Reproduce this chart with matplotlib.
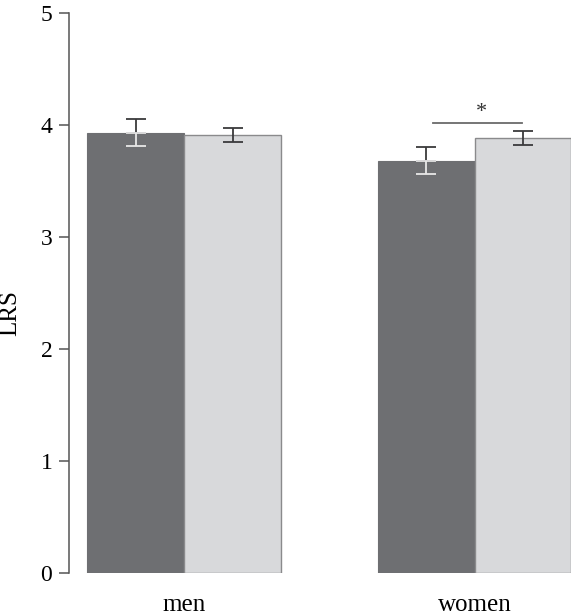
import numpy as np
import matplotlib.pyplot as plt

plt.rcParams['font.family'] = ['Liberation Serif', 'DejaVu Serif']

# data
groups = ['men', 'women']
dark_vals = [3.93, 3.68]
dark_err = [0.12, 0.12]
light_vals = [3.91, 3.88]
light_err = [0.065, 0.063]

dark_col = '#6e6f72'
light_col = '#d8d9db'

fig = plt.figure(figsize=(5.71, 6.16), dpi=100)
ax = fig.add_axes([69 / 571, 43 / 616, 502 / 571, 560 / 616])

x = np.array([0, 3])
w = 1.0

ax.bar(x - w / 2, dark_vals, w, color=dark_col, edgecolor=dark_col, linewidth=0.8)
ax.bar(x + w / 2, light_vals, w, color=light_col, edgecolor='#8a8a8c', linewidth=1.0)

# error bars: upper part dark, lower part inside dark bars drawn light
ekw = dict(fmt='none', capsize=7, elinewidth=1.3, capthick=1.3)
ax.errorbar(x - w / 2, dark_vals, yerr=[np.zeros(2), dark_err], ecolor='#3a3a3c', **ekw)
ax.errorbar(x - w / 2, dark_vals, yerr=[dark_err, np.zeros(2)], ecolor='#e8e8e8', **ekw)
ax.errorbar(x + w / 2, light_vals, yerr=light_err, ecolor='#3a3a3c', **ekw)

# significance marker for women
ax.plot([x[1] - 0.43, x[1] + 0.49], [4.015, 4.015], color='#6a6a6a', lw=1.3)
ax.text(x[1] + 0.07, 4.03, '*', ha='center', va='bottom', fontsize=16, color='#333333')

ax.set_xlim(-1.19, 3.995)
ax.set_ylim(0, 5)
ax.set_yticks([0, 1, 2, 3, 4, 5])
ax.set_xticks(x)
ax.set_xticklabels(groups)
ax.set_ylabel('LRS', fontsize=18)
ax.yaxis.set_label_coords(-0.096, 0.465)

for s in ['top', 'right', 'bottom']:
    ax.spines[s].set_visible(False)
ax.spines['left'].set_color('#555555')
ax.spines['left'].set_linewidth(1.1)
ax.tick_params(axis='y', length=7, width=1.1, color='#555555', labelsize=17, pad=5)
ax.tick_params(axis='x', length=0, labelsize=18, pad=15)

plt.savefig('out.png', dpi=100)
